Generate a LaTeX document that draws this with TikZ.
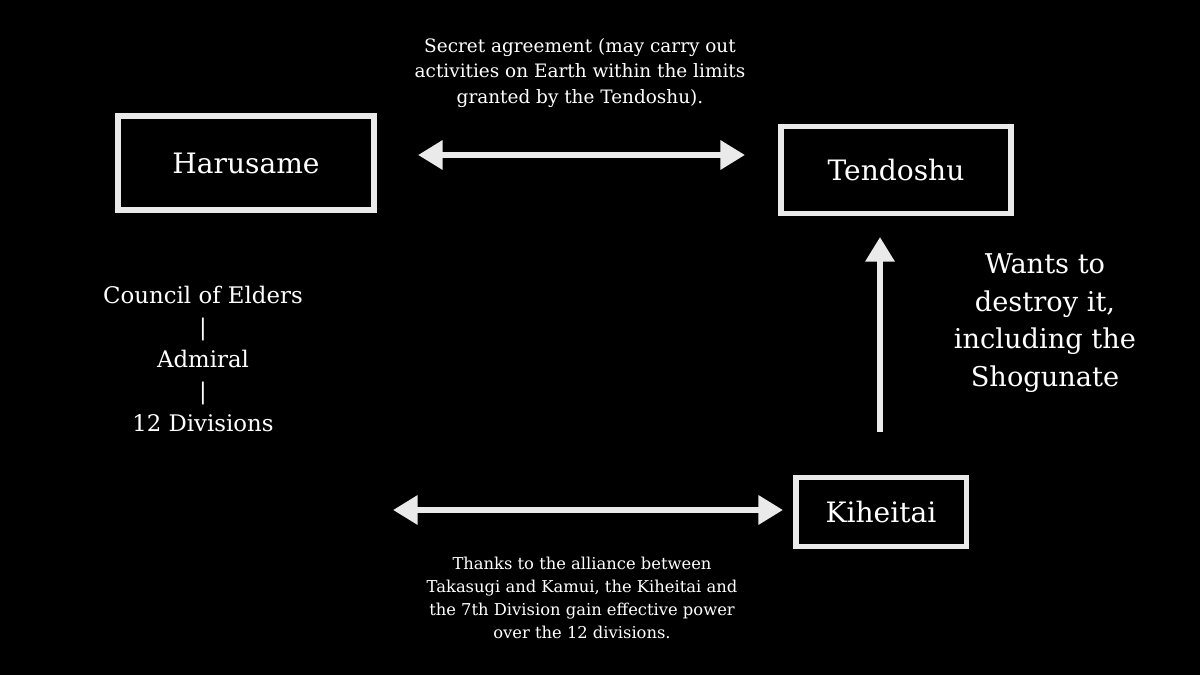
\documentclass[tikz,border=0pt]{standalone}
\usepackage{fontspec}
\setmainfont{DejaVu Serif}
\usetikzlibrary{arrows.meta}
\definecolor{fg}{HTML}{EAEAEA}
\begin{document}
\begin{tikzpicture}[x=0.02cm,y=-0.02cm,
  box/.style={draw=fg,line width=3.4pt,minimum width=#1},
  lbl/.style={text=white,align=center},
  arr/.style={fg,line width=3.4pt,{Triangle[length=14pt,width=16pt]}-{Triangle[length=14pt,width=16pt]}},
  uarr/.style={fg,line width=3.4pt,-{Triangle[length=14pt,width=16pt]}}]
\fill[black] (0,0) rectangle (1200,675);
\useasboundingbox (0,0) rectangle (1200,675);
\node[box=5.12cm,minimum height=1.88cm,lbl,font=\fontsize{16}{19}\selectfont] (har) at (246,163) {Harusame};
\node[box=4.6cm,minimum height=1.74cm,lbl,font=\fontsize{16}{19}\selectfont] (ten) at (896,170) {Tendoshu};
\node[box=3.42cm,minimum height=1.38cm,lbl,font=\fontsize{16}{19}\selectfont] (kih) at (881,512) {Kiheitai};
\coordinate (a1) at (418,155); \coordinate (a2) at (745,155);
\draw[arr] (a1) -- (a2);
\coordinate (b1) at (393,510); \coordinate (b2) at (783,510);
\draw[arr] (b1) -- (b2);
\coordinate (v1) at (880,432); \coordinate (v2) at (880,237);
\draw[uarr] (v1) -- (v2);
\node[lbl,font=\fontsize{10.5}{14.7}\selectfont] (top) at (580,73) {Secret agreement (may carry out\\activities on Earth within the limits\\granted by the Tendoshu).};
\node[lbl,font=\fontsize{13}{18.2}\selectfont] (list) at (203,359) {Council of Elders\\|\\Admiral\\|\\12 Divisions};
\node[lbl,font=\fontsize{15.5}{21.5}\selectfont] (want) at (1045,323) {Wants to\\destroy it,\\including the\\Shogunate};
\node[lbl,font=\fontsize{9.3}{13}\selectfont] (bot) at (582,598) {Thanks to the alliance between\\Takasugi and Kamui, the Kiheitai and\\the 7th Division gain effective power\\over the 12 divisions.};
\end{tikzpicture}
\end{document}
